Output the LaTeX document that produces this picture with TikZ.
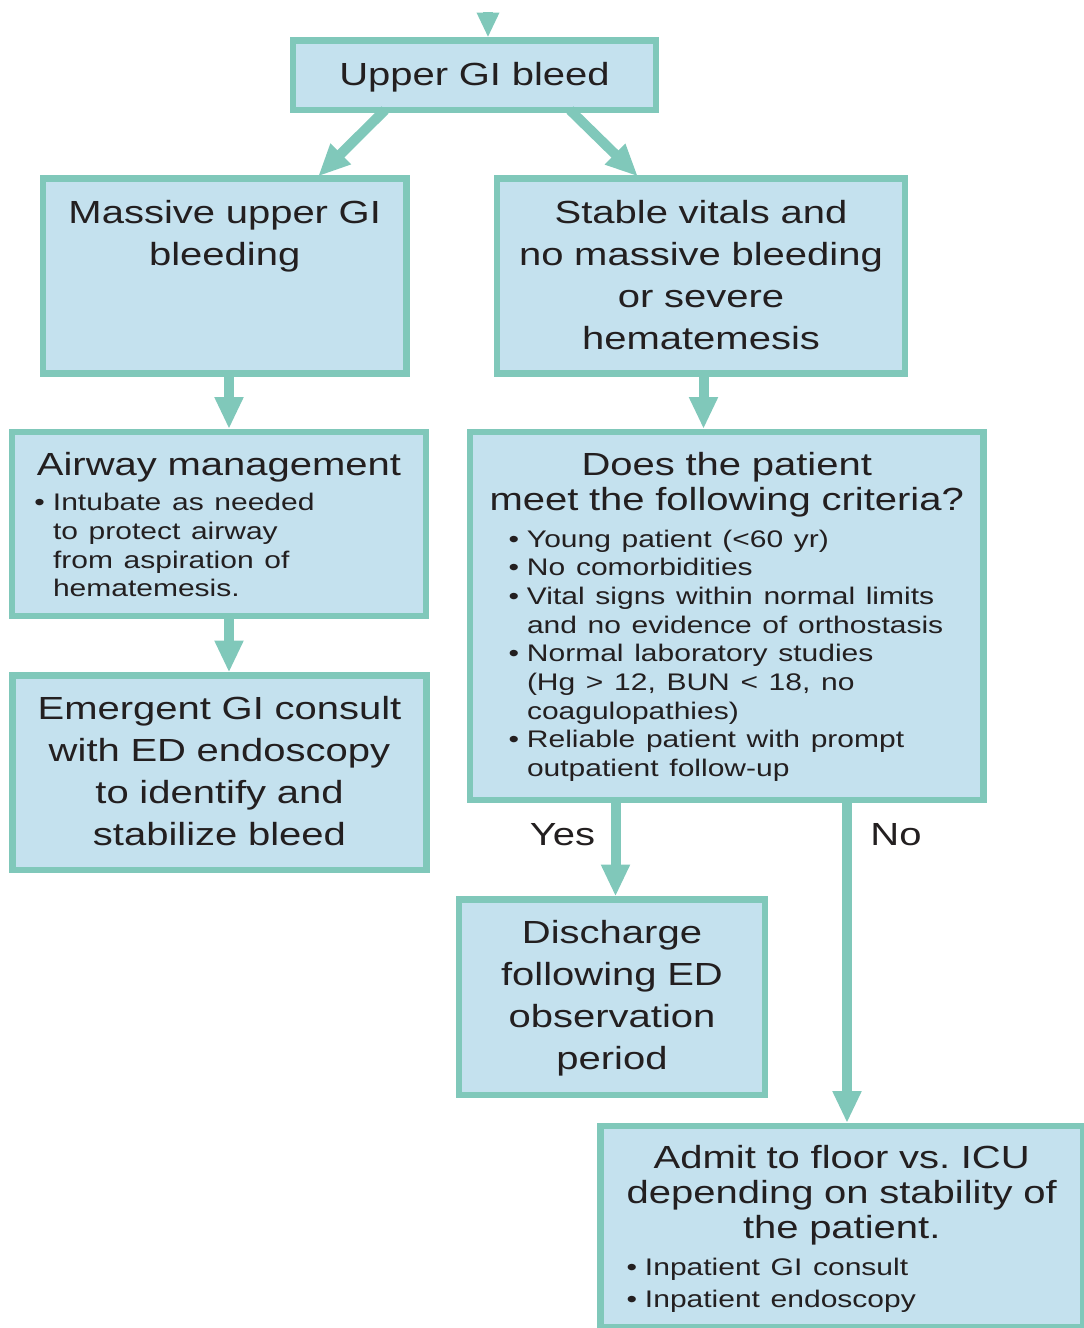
\documentclass[tikz,border=0pt]{standalone}
\usepackage{fontspec}
\setmainfont[FakeStretch=1.25]{Liberation Sans}
\usetikzlibrary{arrows.meta}
\frenchspacing

\definecolor{tealline}{HTML}{80C8BA}
\definecolor{boxfill}{HTML}{C4E1EE}
\definecolor{inktext}{HTML}{231F20}

\newcommand{\boxfont}{\fontsize{32}{42}\selectfont}
\newcommand{\headfont}{\fontsize{32}{35}\selectfont}
\newcommand{\notefont}{\fontsize{24}{28.7}\selectfont}
\newcommand{\bull}{\leavevmode\llap{\textbullet\hspace{8pt}}}

\begin{document}
\begin{tikzpicture}[x=1pt, y=-1pt,
    box/.style={draw=tealline, fill=boxfill, line width=6.5pt, text=inktext, font=\boxfont,
                anchor=north west, inner xsep=10pt, inner ysep=0pt, outer sep=0pt, align=center},
    flow/.style={draw=tealline, line width=10pt, -{Triangle[width=27pt,length=32pt]}, shorten >=3pt},
    lbl/.style={text=inktext, font=\boxfont, inner sep=0pt, anchor=base}]
    \useasboundingbox (0,0) rectangle (1084,1328);
    \node[box, text width=343pt, text height=44.5pt, text depth=25pt] (upper) at (293,40.5) {Upper GI bleed};
    \node[box, text width=343.5pt, text height=44.5pt, text depth=150.5pt] (massive) at (43,178.5) {Massive upper GI\\bleeding};
    \node[box, text width=388pt, text height=44.5pt, text depth=150.5pt] (stable) at (497,178.5) {Stable vitals and\\no massive bleeding\\or severe\\hematemesis};
    \node[box, text width=394pt, text height=43pt, text depth=141pt] (airway) at (12,432)
        {Airway management\par\vspace{7pt}
         {\notefont\raggedright\leftskip=31pt
          \bull Intubate as needed\\to protect airway\\from aspiration of\\hematemesis.\par}};
    \node[box, text width=394pt, text height=43.5pt, text depth=151pt] (emergent) at (12.5,675.5) {Emergent GI consult\\with ED endoscopy\\to identify and\\stabilize bleed};
    \node[box, font=\headfont, text width=493.5pt, text height=43pt, text depth=325pt] (criteria) at (470,432)
        {Does the patient\\meet the following criteria?\par\vspace{8.3pt}
         {\notefont\raggedright\leftskip=47pt
          \bull Young patient (<60 yr)\\
          \bull No comorbidities\\
          \bull Vital signs within normal limits\\
          and no evidence of orthostasis\\
          \bull Normal laboratory studies\\
          (Hg > 12, BUN < 18, no\\
          coagulopathies)\\
          \bull Reliable patient with prompt\\
          outpatient follow-up\par}};
    \node[box, text width=286pt, text height=43.5pt, text depth=152pt] (discharge) at (459,899.5) {Discharge\\following ED\\observation\\period};
    \node[box, font=\headfont, text width=462.5pt, text height=42pt, text depth=159pt] (admit) at (600.5,1126)
        {Admit to floor vs. ICU\\depending on stability of\\the patient.\par\vspace{5pt}
         {\fontsize{24}{32}\selectfont\raggedright\leftskip=34.5pt
          \bull Inpatient GI consult\\
          \bull Inpatient endoscopy\par}};
    \node[lbl] (yes) at (562.5,845) {Yes};
    \node[lbl] (no) at (896,845) {No};
    \coordinate (entry) at (488,12);
    \draw[flow, -{Triangle[width=21pt,length=25pt]}] (entry) -- (upper.north -| entry);
    \draw[flow] ([xshift=92pt]upper.south west) -- ([xshift=273pt]massive.north west);
    \draw[flow] ([xshift=277pt]upper.south west) -- ([xshift=143pt]stable.north west);
    \draw[flow] (massive.south -| 229,0) -- (airway.north -| 229,0);
    \draw[flow] (airway.south -| 229,0) -- (emergent.north -| 229,0);
    \draw[flow] (stable.south -| 703.5,0) -- (criteria.north -| 703.5,0);
    \draw[flow] (criteria.south -| 615.5,0) -- (discharge.north -| 615.5,0);
    \draw[flow] (criteria.south -| 847,0) -- (admit.north -| 847,0);
\end{tikzpicture}
\end{document}
